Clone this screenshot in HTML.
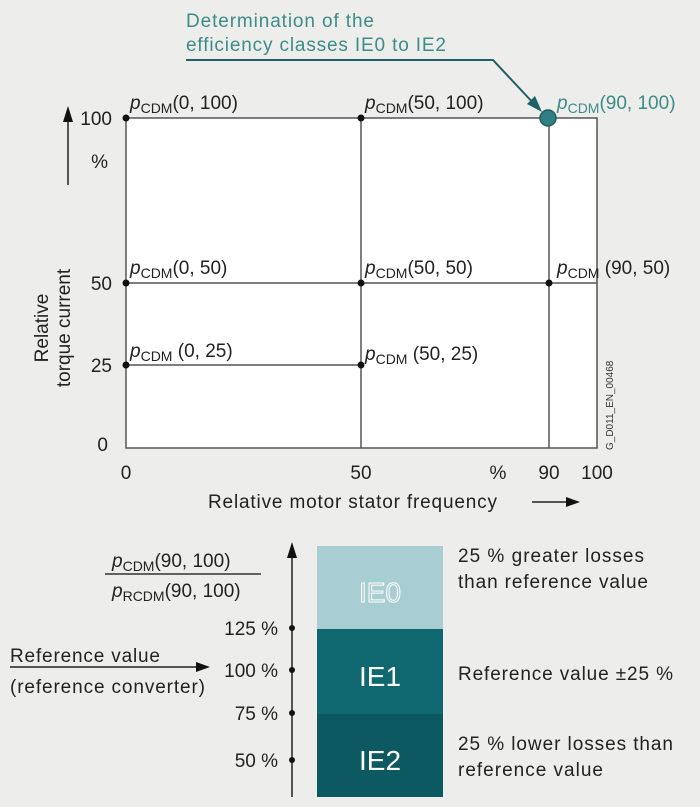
<!DOCTYPE html>
<html><head><meta charset="utf-8"><style>
body{margin:0;background:#ededeb;}
svg{display:block;font-family:"Liberation Sans",sans-serif;}
</style></head><body>
<svg width="700" height="807" viewBox="0 0 700 807">
<rect width="700" height="807" fill="#ededeb"/>
<text x="186" y="27" font-size="19" fill="#3c8c88" textLength="188">Determination of the</text>
<text x="186" y="51" font-size="19" fill="#3c8c88" textLength="260">efficiency classes IE0 to IE2</text>
<polyline points="186,60 493,60 536,106" fill="none" stroke="#1f5f66" stroke-width="2"/>
<polygon points="542,112 527,104 535,96" fill="#1f5f66"/>
<rect x="126" y="118" width="471" height="330" fill="#fff" stroke="#555" stroke-width="1.5"/>
<g stroke="#555" stroke-width="1.5">
<line x1="126" y1="283" x2="597" y2="283"/>
<line x1="126" y1="365" x2="361" y2="365"/>
<line x1="361" y1="118" x2="361" y2="448"/>
<line x1="549" y1="118" x2="549" y2="448"/>
</g>
<g fill="#111">
<circle cx="126" cy="118" r="3.5"/><circle cx="361" cy="118" r="3.5"/>
<circle cx="126" cy="283" r="3.5"/><circle cx="361" cy="283" r="3.5"/><circle cx="549" cy="283" r="3.5"/>
<circle cx="126" cy="365" r="3.5"/><circle cx="361" cy="365" r="3.5"/>
</g>
<circle cx="548" cy="118" r="8" fill="#2f7f84" stroke="#1f5f66" stroke-width="1.5"/>
<g font-size="19" fill="#222">
<text x="130" y="109"><tspan font-style="italic">p</tspan><tspan font-size="14" dy="4">CDM</tspan><tspan dy="-4">(0, 100)</tspan></text>
<text x="365" y="109"><tspan font-style="italic">p</tspan><tspan font-size="14" dy="4">CDM</tspan><tspan dy="-4">(50, 100)</tspan></text>
<text x="557" y="109" fill="#3c8c88"><tspan font-style="italic">p</tspan><tspan font-size="14" dy="4">CDM</tspan><tspan dy="-4">(90, 100)</tspan></text>
<text x="130" y="274"><tspan font-style="italic">p</tspan><tspan font-size="14" dy="4">CDM</tspan><tspan dy="-4">(0, 50)</tspan></text>
<text x="365" y="274"><tspan font-style="italic">p</tspan><tspan font-size="14" dy="4">CDM</tspan><tspan dy="-4">(50, 50)</tspan></text>
<text x="557" y="274"><tspan font-style="italic">p</tspan><tspan font-size="14" dy="4">CDM</tspan><tspan dy="-4"> (90, 50)</tspan></text>
<text x="130" y="357"><tspan font-style="italic">p</tspan><tspan font-size="14" dy="4">CDM</tspan><tspan dy="-4"> (0, 25)</tspan></text>
<text x="365" y="360"><tspan font-style="italic">p</tspan><tspan font-size="14" dy="4">CDM</tspan><tspan dy="-4"> (50, 25)</tspan></text>
<text x="112" y="125" text-anchor="end">100</text>
<text x="108" y="168" text-anchor="end">%</text>
<text x="112" y="290" text-anchor="end">50</text>
<text x="112" y="372" text-anchor="end">25</text>
<text x="108" y="451" text-anchor="end">0</text>
<text x="126" y="479" text-anchor="middle">0</text>
<text x="361" y="479" text-anchor="middle">50</text>
<text x="498" y="479" text-anchor="middle">%</text>
<text x="549" y="479" text-anchor="middle">90</text>
<text x="597" y="479" text-anchor="middle">100</text>
<text x="208" y="508" textLength="289">Relative motor stator frequency</text>
<text transform="translate(48,328) rotate(-90)" text-anchor="middle">Relative</text>
<text transform="translate(70,328) rotate(-90)" text-anchor="middle">torque current</text>
</g>
<text transform="translate(613,450) rotate(-90)" font-size="10" fill="#333">G_D011_EN_00468</text>
<line x1="68" y1="185" x2="68" y2="120" stroke="#222" stroke-width="1.5"/>
<polygon points="68,106 63,122 73,122" fill="#111"/>
<line x1="532" y1="502" x2="566" y2="502" stroke="#222" stroke-width="1.5"/>
<polygon points="580,502 566,497 566,507" fill="#111"/>
<rect x="317" y="546" width="126" height="83" fill="#a8cdd2"/>
<rect x="317" y="629" width="126" height="85" fill="#0f6870"/>
<rect x="317" y="714" width="126" height="83" fill="#0c5961"/>
<text x="380" y="602" font-size="28" fill="#a8cdd2" stroke="#fff" stroke-width="1" text-anchor="middle">IE0</text>
<text x="380" y="686" font-size="28" fill="#fff" text-anchor="middle">IE1</text>
<text x="380" y="770" font-size="28" fill="#fff" text-anchor="middle">IE2</text>
<line x1="292" y1="797" x2="292" y2="556" stroke="#222" stroke-width="1.5"/>
<polygon points="292,542 287,558 297,558" fill="#111"/>
<g fill="#111"><circle cx="292" cy="628" r="3"/><circle cx="292" cy="670" r="3"/><circle cx="292" cy="713" r="3"/><circle cx="292" cy="760" r="3"/></g>
<g font-size="19" fill="#222">
<text x="278" y="635" text-anchor="end">125 %</text>
<text x="278" y="677" text-anchor="end">100 %</text>
<text x="278" y="720" text-anchor="end">75 %</text>
<text x="278" y="767" text-anchor="end">50 %</text>
<text x="112" y="567"><tspan font-style="italic">p</tspan><tspan font-size="14" dy="4">CDM</tspan><tspan dy="-4">(90, 100)</tspan></text>
<line x1="105" y1="574" x2="261" y2="574" stroke="#333" stroke-width="1.5"/>
<text x="112" y="597"><tspan font-style="italic">p</tspan><tspan font-size="14" dy="4">RCDM</tspan><tspan dy="-4">(90, 100)</tspan></text>
<text x="10" y="662" textLength="150">Reference value</text>
<text x="10" y="693" textLength="195">(reference converter)</text>
<text x="458" y="562" textLength="186">25 % greater losses</text>
<text x="458" y="588" textLength="190">than reference value</text>
<text x="458" y="680" textLength="215">Reference value ±25 %</text>
<text x="458" y="750" textLength="215">25 % lower losses than</text>
<text x="458" y="776" textLength="145">reference value</text>
</g>
<line x1="10" y1="667" x2="198" y2="667" stroke="#222" stroke-width="1.5"/>
<polygon points="210,667 196,662 196,672" fill="#111"/>
</svg>
</body></html>
